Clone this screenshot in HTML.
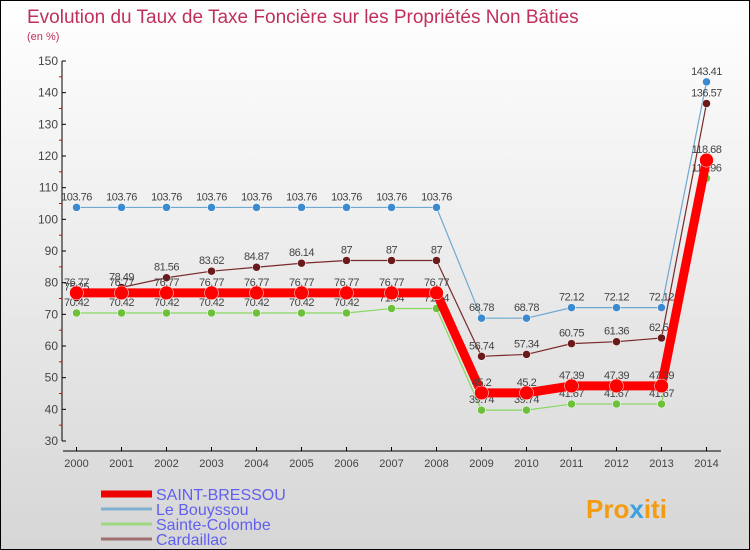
<!DOCTYPE html>
<html><head><meta charset="utf-8"><style>
body{margin:0}
#c{width:750px;height:550px;position:relative;overflow:hidden;border:1px solid #000;box-sizing:border-box;background:linear-gradient(#ffffff,#d6d6d6);font-family:"Liberation Sans",sans-serif}
text{font-family:"Liberation Sans",sans-serif}
</style></head><body>
<div id="c">
<svg id="s" width="750" height="550">
<text x="26" y="22" font-size="19" fill="#c0305a">Evolution du Taux de Taxe Foncière sur les Propriétés Non Bâties</text>
<text x="26" y="39" font-size="11" fill="#c0305a">(en %)</text>
<g id="axes"></g><g id="series"></g><g id="legend"></g>
<text x="585" y="517" font-size="26" font-weight="bold" fill="#f39c12">Pro<tspan fill="#3aa0e0">x</tspan>iti</text>
</svg></div>
<script>
const years=[2000,2001,2002,2003,2004,2005,2006,2007,2008,2009,2010,2011,2012,2013,2014];
const yTicks=[30,40,50,60,70,80,90,100,110,120,130,140,150];
const saintBressou=[76.77,76.77,76.77,76.77,76.77,76.77,76.77,76.77,76.77,45.2,45.2,47.39,47.39,47.39,118.68];
const leBouyssou=[103.76,103.76,103.76,103.76,103.76,103.76,103.76,103.76,103.76,68.78,68.78,72.12,72.12,72.12,143.41];
const sainteColombe=[70.42,70.42,70.42,70.42,70.42,70.42,70.42,71.84,71.84,39.74,39.74,41.67,41.67,41.67,112.96];
const cardaillac=[75.25,78.49,81.56,83.62,84.87,86.14,87,87,87,56.74,57.34,60.75,61.36,62.53,136.57];
const NS="http://www.w3.org/2000/svg";
const X=i=>75.5+i*45, Y=v=>440-(v-30)*380/120;
function mk(p,t,a){const e=document.createElementNS(NS,t);for(const k in a)e.setAttribute(k,a[k]);p.appendChild(e);return e;}
const ax=document.getElementById('axes');
const yl=mk(ax,'line',{x1:61,y1:60,x2:61,y2:440,stroke:'#000'});

const xl=mk(ax,'line',{x1:62,y1:450,x2:720,y2:450,stroke:'#000'});

yTicks.forEach(v=>{mk(ax,'line',{x1:61,y1:Y(v),x2:65,y2:Y(v),stroke:'#000'});
 if(v<150)mk(ax,'line',{x1:58,y1:Y(v+5),x2:61,y2:Y(v+5),stroke:'#e00'});
 const t=mk(ax,'text',{x:57,y:Y(v)+4,'font-size':12,fill:'#444','text-anchor':'end'});t.textContent=v;
 });
years.forEach((y,i)=>{mk(ax,'line',{x1:X(i),y1:446,x2:X(i),y2:450,stroke:'#000'});
 const t=mk(ax,'text',{x:X(i),y:466,'font-size':11,fill:'#444','text-anchor':'middle'});t.textContent=y;
 });
const sg=document.getElementById('series');
function series(d,col,w,r,name,dot,lblOff){
 const g=mk(sg,'g',{});
 mk(g,'polyline',{points:d.map((v,i)=>X(i)+','+Y(v)).join(' '),fill:'none',stroke:col,'stroke-width':w,'stroke-linejoin':'round'});
 d.forEach((v,i)=>{const c=mk(g,'circle',{cx:X(i),cy:Y(v),r:r,fill:dot,stroke:'#fff','stroke-width':0.5});
  
  const t=mk(g,'text',{x:X(i),y:Y(v)+lblOff,'font-size':11,fill:'#444','text-anchor':'middle','letter-spacing':'-0.5'});t.textContent=v;
  });
}
series(leBouyssou,'#6fa8d0',1.2,4,'le-bouyssou','#3b8ad0',-7);
series(sainteColombe,'#88d860',1.2,4,'sainte-colombe','#6cc03a',-7);
series(cardaillac,'#7a2a2a',1.2,4,'cardaillac','#6a1a1a',-7);
series(saintBressou,'#ff0000',9,7,'saint-bressou','#ff0000',-7);
const lg=document.getElementById('legend');
[['SAINT-BRESSOU','#ee0000',7],['Le Bouyssou','#7fb0d0',3],['Sainte-Colombe','#9ed880',3],['Cardaillac','#a07070',3]].forEach((e,i)=>{
 const g=mk(lg,'g',{});
 const y=493+i*15;
 mk(g,'line',{x1:100,y1:y,x2:151,y2:y,stroke:e[1],'stroke-width':e[2]});
 const t=mk(g,'text',{x:155,y:y+6,'font-size':16,fill:'#6060ee'});t.textContent=e[0];
});
</script>
</body></html>
